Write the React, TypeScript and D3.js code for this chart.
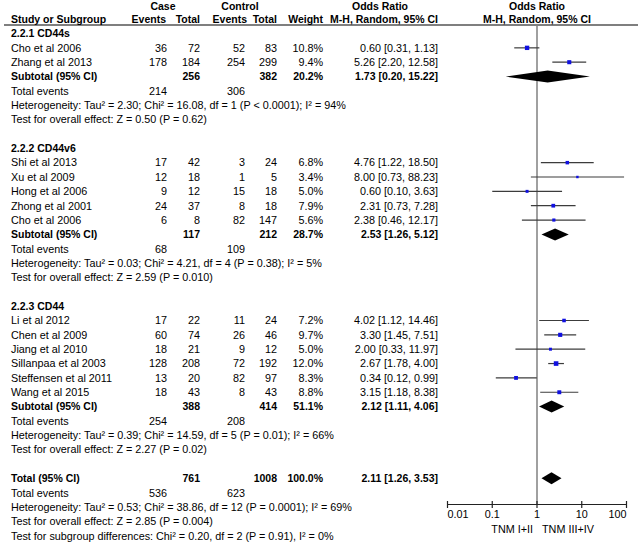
import React from "react";
import * as d3 from "d3";

// ---------- data ----------
const groupLabels = ["2.2.1 CD44s", "2.2.2 CD44v6", "2.2.3 CD44"];

const studyNames = [
  "Cho et al 2006", "Zhang et al 2013",
  "Shi et al 2013", "Xu et al 2009", "Hong et al 2006", "Zhong et al 2001", "Cho et al 2006",
  "Li et al 2012", "Chen et al 2009", "Jiang et al 2010", "Sillanpaa et al 2003", "Steffensen et al 2011", "Wang et al 2015",
];
const studyGroup = [0, 0, 1, 1, 1, 1, 1, 2, 2, 2, 2, 2, 2];
const caseEvents = [36, 178, 17, 12, 9, 24, 6, 17, 60, 18, 128, 13, 18];
const caseTotals = [72, 184, 42, 18, 12, 37, 8, 22, 74, 21, 208, 20, 43];
const controlEvents = [52, 254, 3, 1, 15, 8, 82, 11, 26, 9, 72, 82, 8];
const controlTotals = [83, 299, 24, 5, 18, 18, 147, 24, 46, 12, 192, 97, 43];
const weights = [10.8, 9.4, 6.8, 3.4, 5.0, 7.9, 5.6, 7.2, 9.7, 5.0, 12.0, 8.3, 8.8];
const oddsRatios = [0.60, 5.26, 4.76, 8.00, 0.60, 2.31, 2.38, 4.02, 3.30, 2.00, 2.67, 0.34, 3.15];
const ciLow = [0.31, 2.20, 1.22, 0.73, 0.10, 0.73, 0.46, 1.12, 1.45, 0.33, 1.78, 0.12, 1.18];
const ciHigh = [1.13, 12.58, 18.50, 88.23, 3.63, 7.28, 12.17, 14.46, 7.51, 11.97, 4.00, 0.99, 8.38];

const subCaseTotals = [256, 117, 388];
const subControlTotals = [382, 212, 414];
const subWeights = [20.2, 28.7, 51.1];
const subOR = [1.73, 2.53, 2.12];
const subLow = [0.20, 1.26, 1.11];
const subHigh = [15.22, 5.12, 4.06];
const subCaseEvents = [214, 68, 254];
const subControlEvents = [306, 109, 208];
const subHeterogeneity = [
  "Heterogeneity: Tau² = 2.30; Chi² = 16.08, df = 1 (P < 0.0001); I² = 94%",
  "Heterogeneity: Tau² = 0.03; Chi² = 4.21, df = 4 (P = 0.38); I² = 5%",
  "Heterogeneity: Tau² = 0.39; Chi² = 14.59, df = 5 (P = 0.01); I² = 66%",
];
const subOverall = [
  "Test for overall effect: Z = 0.50 (P = 0.62)",
  "Test for overall effect: Z = 2.59 (P = 0.010)",
  "Test for overall effect: Z = 2.27 (P = 0.02)",
];

const totalCase = 761;
const totalControl = 1008;
const totalWeight = 100.0;
const totalOR = [2.11, 1.26, 3.53];
const totalEvents = [536, 623];
const totalHeterogeneity = "Heterogeneity: Tau² = 0.53; Chi² = 38.86, df = 12 (P = 0.0001); I² = 69%";
const totalOverall = "Test for overall effect: Z = 2.85 (P = 0.004)";
const subgroupDiff = "Test for subgroup differences: Chi² = 0.20, df = 2 (P = 0.91), I² = 0%";

const axisTicks = [0.01, 0.1, 1, 10, 100];
const axisTickLabels = ["0.01", "0.1", "1", "10", "100"];
const favourLeft = "TNM I+II";
const favourRight = "TNM III+IV";

// ---------- layout ----------
const W = 638;
const H = 542;
const FONT = "'Liberation Sans', Arial, sans-serif";
const FS = 10.8;
const FSB = 10.5;
const rowY = (i: number) => 33.5 + i * 14.35;
const xCaseEv = 167;
const xCaseTot = 200;
const xCtrlEv = 245;
const xCtrlTot = 277;
const xWeight = 323;
const xOR = 438;

const fmt2 = d3.format(".2f");
const fmtW = d3.format(".1f");
const orText = (o: number, l: number, h: number) => `${fmt2(o)} [${fmt2(l)}, ${fmt2(h)}]`;

type Row =
  | { kind: "label"; text: string }
  | { kind: "study"; idx: number }
  | { kind: "subtotal"; g: number }
  | { kind: "events"; a: number; b: number }
  | { kind: "note"; text: string }
  | { kind: "blank" }
  | { kind: "total" };

const rows: Row[] = [];
groupLabels.forEach((lab, g) => {
  rows.push({ kind: "label", text: lab });
  studyNames.forEach((_, i) => {
    if (studyGroup[i] === g) rows.push({ kind: "study", idx: i });
  });
  rows.push({ kind: "subtotal", g });
  rows.push({ kind: "events", a: subCaseEvents[g], b: subControlEvents[g] });
  rows.push({ kind: "note", text: subHeterogeneity[g] });
  rows.push({ kind: "note", text: subOverall[g] });
  rows.push({ kind: "blank" });
});
rows.push({ kind: "total" });
rows.push({ kind: "events", a: totalEvents[0], b: totalEvents[1] });
rows.push({ kind: "note", text: totalHeterogeneity });
rows.push({ kind: "note", text: totalOverall });
rows.push({ kind: "note", text: subgroupDiff });

export default function App() {
  const x = d3.scaleLog().domain([0.01, 100]).range([447.5, 626.5]);
  const sq = d3.scaleSqrt().domain([0, 12]).range([0, 4.6]);
  const axisY = 504.5;
  const T = (props: any) => (
    <text
      fontFamily={FONT}
      fontSize={props.fontWeight === "bold" ? FSB : FS}
      fill="#000"
      {...props}
    />
  );
  const diamond = (cy: number, o: number, l: number, h: number, key: string) => {
    const pts = [
      [x(l), cy],
      [x(o), cy - 6],
      [x(h), cy],
      [x(o), cy + 6],
    ];
    return <polygon key={key} points={pts.map((p) => p.join(",")).join(" ")} fill="#000" />;
  };

  const elems: React.ReactNode[] = [];
  rows.forEach((r, i) => {
    const cy = rowY(i);
    const ty = cy + 3.8;
    const k = `r${i}`;
    if (r.kind === "label") {
      elems.push(<T key={k} x={11} y={ty} fontWeight="bold">{r.text}</T>);
    } else if (r.kind === "study") {
      const j = r.idx;
      elems.push(
        <g key={k}>
          <T x={11} y={ty}>{studyNames[j]}</T>
          <T x={xCaseEv} y={ty} textAnchor="end">{caseEvents[j]}</T>
          <T x={xCaseTot} y={ty} textAnchor="end">{caseTotals[j]}</T>
          <T x={xCtrlEv} y={ty} textAnchor="end">{controlEvents[j]}</T>
          <T x={xCtrlTot} y={ty} textAnchor="end">{controlTotals[j]}</T>
          <T x={xWeight} y={ty} textAnchor="end">{fmtW(weights[j])}%</T>
          <T x={xOR} y={ty} textAnchor="end">{orText(oddsRatios[j], ciLow[j], ciHigh[j])}</T>
          <line x1={x(ciLow[j])} x2={x(ciHigh[j])} y1={cy} y2={cy} stroke="#3c3c3c" strokeWidth={1.2} />
          <rect
            x={x(oddsRatios[j]) - sq(weights[j]) / 2}
            y={cy - sq(weights[j]) / 2}
            width={sq(weights[j])}
            height={sq(weights[j])}
            fill="#1010e0"
          />
        </g>
      );
    } else if (r.kind === "subtotal") {
      const g = r.g;
      elems.push(
        <g key={k}>
          <T x={11} y={ty} fontWeight="bold">Subtotal (95% CI)</T>
          <T x={xCaseTot} y={ty} textAnchor="end" fontWeight="bold">{subCaseTotals[g]}</T>
          <T x={xCtrlTot} y={ty} textAnchor="end" fontWeight="bold">{subControlTotals[g]}</T>
          <T x={xWeight} y={ty} textAnchor="end" fontWeight="bold">{fmtW(subWeights[g])}%</T>
          <T x={xOR} y={ty} textAnchor="end" fontWeight="bold">{orText(subOR[g], subLow[g], subHigh[g])}</T>
          {diamond(cy, subOR[g], subLow[g], subHigh[g], "d")}
        </g>
      );
    } else if (r.kind === "events") {
      elems.push(
        <g key={k}>
          <T x={11} y={ty}>Total events</T>
          <T x={xCaseEv} y={ty} textAnchor="end">{r.a}</T>
          <T x={xCtrlEv} y={ty} textAnchor="end">{r.b}</T>
        </g>
      );
    } else if (r.kind === "note") {
      elems.push(<T key={k} x={11} y={ty}>{r.text}</T>);
    } else if (r.kind === "total") {
      elems.push(
        <g key={k}>
          <T x={11} y={ty} fontWeight="bold">Total (95% CI)</T>
          <T x={xCaseTot} y={ty} textAnchor="end" fontWeight="bold">{totalCase}</T>
          <T x={xCtrlTot} y={ty} textAnchor="end" fontWeight="bold">{totalControl}</T>
          <T x={xWeight} y={ty} textAnchor="end" fontWeight="bold">{fmtW(totalWeight)}%</T>
          <T x={xOR} y={ty} textAnchor="end" fontWeight="bold">{orText(totalOR[0], totalOR[1], totalOR[2])}</T>
          {diamond(cy, totalOR[0], totalOR[1], totalOR[2], "d")}
        </g>
      );
    }
  });

  const hy1 = 6 + 3.8;
  const hy2 = 19.2 + 3.8;
  const x1 = x(1);

  return (
    <svg width={W} height={H} style={{ position: "absolute", left: 0, top: 0, background: "#fff" }}>
      <rect width={W} height={H} fill="#fff" />
      {/* headers */}
      <T x={163} y={hy1} textAnchor="middle" fontWeight="bold">Case</T>
      <T x={240} y={hy1} textAnchor="middle" fontWeight="bold">Control</T>
      <T x={380} y={hy1} textAnchor="middle" fontWeight="bold">Odds Ratio</T>
      <T x={x1} y={hy1} textAnchor="middle" fontWeight="bold">Odds Ratio</T>
      <T x={11} y={hy2} fontWeight="bold">Study or Subgroup</T>
      <T x={166} y={hy2} textAnchor="end" fontWeight="bold">Events</T>
      <T x={200} y={hy2} textAnchor="end" fontWeight="bold">Total</T>
      <T x={247} y={hy2} textAnchor="end" fontWeight="bold">Events</T>
      <T x={277} y={hy2} textAnchor="end" fontWeight="bold">Total</T>
      <T x={323} y={hy2} textAnchor="end" fontWeight="bold">Weight</T>
      <T x={xOR} y={hy2} textAnchor="end" fontWeight="bold">M-H, Random, 95% CI</T>
      <T x={x1} y={hy2} textAnchor="middle" fontWeight="bold">M-H, Random, 95% CI</T>
      <line x1={4} x2={W} y1={25} y2={25} stroke="#000" strokeWidth={1.2} />
      {/* null line */}
      <line x1={x1} x2={x1} y1={25} y2={axisY} stroke="#808080" strokeWidth={1.5} />
      {elems}
      {/* axis */}
      <line x1={x(0.01)} x2={x(100)} y1={axisY} y2={axisY} stroke="#222" strokeWidth={1.2} />
      {axisTicks.map((t, i) => (
        <g key={`t${i}`}>
          <line x1={x(t)} x2={x(t)} y1={axisY - 3.5} y2={axisY + 3.5} stroke="#222" strokeWidth={1.2} />
          <T
            x={x(t)}
            y={axisY + 13.5}
            textAnchor={i === 0 ? "start" : i === axisTicks.length - 1 ? "end" : "middle"}
          >
            {axisTickLabels[i]}
          </T>
        </g>
      ))}
      <T x={x1 - 4} y={axisY + 28.5} textAnchor="end">{favourLeft}</T>
      <T x={x1 + 5} y={axisY + 28.5} textAnchor="start">{favourRight}</T>
    </svg>
  );
}
